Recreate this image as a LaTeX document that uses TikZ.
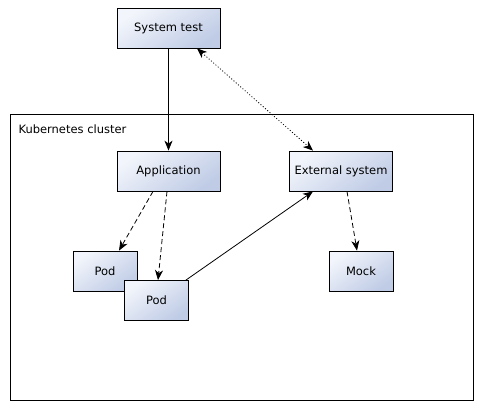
\documentclass[tikz,border=0pt]{standalone}
\usepackage{fontspec}
\setmainfont{DejaVu Sans}
\usetikzlibrary{arrows.meta}
\definecolor{boxlight}{RGB}{242,245,251}
\definecolor{boxdark}{RGB}{192,204,230}
\begin{document}
\begin{tikzpicture}[x=1pt,y=-1pt,>={Stealth[length=10pt,width=8pt,inset=3pt]},
  box/.style={draw,line width=0.8pt,shading=axis,top color=boxlight,bottom color=boxdark,
    shading angle=35,minimum height=40pt,inner sep=0pt,font=\fontsize{11.5}{13}\selectfont},
  wide/.style={box,minimum width=103pt},
  small/.style={box,minimum width=64pt},
  dashline/.style={dash pattern=on 5pt off 3pt},
  dotline/.style={dash pattern=on 1pt off 2pt}]
\useasboundingbox (0,0) rectangle (485,410);
\draw[line width=0.8pt] (10,114) rectangle (473,400);
\node[anchor=west,font=\fontsize{11.5}{13}\selectfont] (cl) at (15,129) {Kubernetes cluster};
\node[wide] (st) at (168.5,28) {System test};
\node[wide] (app) at (168.5,171) {Application};
\node[wide] (ext) at (341,171) {External system};
\node[small] (p1) at (105,271) {Pod};
\node[small] (p2) at (156.5,300.5) {Pod};
\node[small] (mock) at (361,271) {Mock};
\draw[->,line width=0.8pt] (st.south) -- (app.north);
\draw[<->,line width=0.8pt,dotline] ([xshift=28.5pt]st.south) -- ([xshift=-28pt]ext.north);
\draw[->,line width=0.8pt,dashline] ([xshift=-15.5pt]app.south) -- ([xshift=14pt]p1.north);
\draw[->,line width=0.8pt,dashline] ([xshift=-1.5pt]app.south) -- ([xshift=1.5pt]p2.north);
\draw[->,line width=0.8pt] ([xshift=-3pt]p2.north east) -- ([xshift=-28pt]ext.south);
\draw[->,line width=0.8pt,dashline] ([xshift=6pt]ext.south) -- ([xshift=-4pt]mock.north);
\end{tikzpicture}
\end{document}
